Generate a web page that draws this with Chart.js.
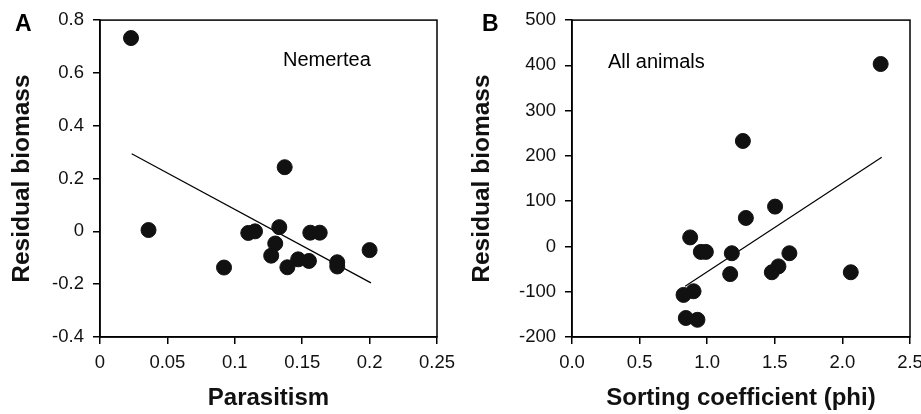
<!DOCTYPE html>
<html>
<head>
<meta charset="utf-8">
<script src="https://cdn.jsdelivr.net/npm/chart.js@4"></script>
<style>
  body { margin: 0; background: #fff; }
  .panel { position: absolute; top: 0; height: 414px; }
</style>
</head>
<body>
<div class="panel" style="left:0;width:460px"><canvas id="chartA"></canvas></div>
<div class="panel" style="left:460px;width:461px"><canvas id="chartB"></canvas></div>
<script>
// panel A - Nemertea
const parasitism = [0.023, 0.036, 0.092, 0.110, 0.115, 0.133, 0.130, 0.127, 0.137, 0.139, 0.147, 0.155, 0.156, 0.163, 0.176, 0.176, 0.200];
const residualA = [0.732, 0.005, -0.137, -0.006, 0.0, 0.016, -0.046, -0.092, 0.243, -0.136, -0.106, -0.112, -0.005, -0.005, -0.117, -0.133, -0.071];
const fitXA = [0.0235, 0.201];
const fitYA = [0.294, -0.195];
const xTicksA = ['0', '0.05', '0.1', '0.15', '0.2', '0.25'];
const yTicksA = ['-0.4', '-0.2', '0', '0.2', '0.4', '0.6', '0.8'];

// panel B - All animals
const sorting = [2.283, 1.264, 1.286, 1.502, 0.874, 0.953, 0.990, 1.182, 1.608, 1.170, 1.478, 1.527, 2.062, 0.899, 0.825, 0.842, 0.928];
const residualB = [403, 233, 63, 88, 20, -12, -12, -15, -15, -61, -57, -44, -57, -99, -107, -158, -162];
const fitXB = [0.837, 2.291];
const fitYB = [-88, 197];
const xTicksB = ['0.0', '0.5', '1.0', '1.5', '2.0', '2.5'];
const yTicksB = ['-200', '-100', '0', '100', '200', '300', '400', '500'];

const FONT = "'Liberation Sans', Arial, Helvetica, sans-serif";

function pts(xs, ys) {
  return xs.map((x, i) => ({ x: x, y: ys[i] }));
}

// frame round the plot area plus the panel letter and the note
function decor(letter, letterX, note, noteX, noteY) {
  return {
    id: 'decor',
    afterDraw(chart) {
      const { ctx, chartArea: a } = chart;
      ctx.save();
      ctx.strokeStyle = '#000';
      ctx.lineWidth = 1.5;
      ctx.strokeRect(a.left, a.top, a.right - a.left, a.bottom - a.top);
      ctx.fillStyle = '#000';
      ctx.textBaseline = 'alphabetic';
      ctx.font = 'bold 23px ' + FONT;
      ctx.fillText(letter, letterX, 31);
      ctx.font = '20px ' + FONT;
      ctx.fillText(note, noteX, noteY);
      ctx.restore();
    }
  };
}

function makeChart(id, xs, ys, fx, fy, xr, yr, xLabels, yLabels, xTitle, yWidth, yTitlePad, rightPad, plugin) {
  new Chart(document.getElementById(id), {
    type: 'scatter',
    data: {
      datasets: [
        {
          data: pts(xs, ys),
          backgroundColor: '#111',
          borderColor: '#111',
          pointRadius: 7.5,
          pointHoverRadius: 7.5
        },
        {
          type: 'line',
          data: pts(fx, fy),
          borderColor: '#000',
          borderWidth: 1.2,
          pointRadius: 0,
          fill: false
        }
      ]
    },
    options: {
      responsive: true,
      maintainAspectRatio: false,
      animation: false,
      events: [],
      layout: { padding: { left: 0, top: 15, right: rightPad, bottom: 0 } },
      plugins: { legend: { display: false }, tooltip: { enabled: false } },
      scales: {
        x: {
          type: 'linear',
          min: xr[0], max: xr[1],
          afterFit(s) { s.height = 77; s.paddingRight = 0; s.paddingLeft = 0; },
          border: { display: true, color: '#000', width: 1.5 },
          grid: { drawOnChartArea: false, drawTicks: true, tickLength: 7, color: '#000', lineWidth: 1.5 },
          ticks: {
            stepSize: xr[2],
            color: '#111',
            font: { family: FONT, size: 18.5 },
            padding: 8,
            maxRotation: 0,
            callback: (v, i) => xLabels[i]
          },
          title: {
            display: true,
            text: xTitle,
            color: '#111',
            font: { family: FONT, size: 24, weight: 'bold' },
            padding: { top: 0, bottom: 1 }
          }
        },
        y: {
          type: 'linear',
          min: yr[0], max: yr[1],
          afterFit(s) { s.width = yWidth; },
          border: { display: true, color: '#000', width: 1.5 },
          grid: { drawOnChartArea: false, drawTicks: true, tickLength: 7, color: '#000', lineWidth: 1.5 },
          ticks: {
            stepSize: yr[2],
            color: '#111',
            font: { family: FONT, size: 18.5 },
            padding: 9,
            callback: (v, i) => yLabels[i]
          },
          title: {
            display: true,
            text: 'Residual biomass',
            color: '#111',
            font: { family: FONT, size: 24.5, weight: 'bold' },
            padding: { top: 8, bottom: 0 }
          }
        }
      }
    },
    plugins: [plugin]
  });
}

makeChart('chartA', parasitism, residualA, fitXA, fitYA,
  [0, 0.25, 0.05], [-0.4, 0.8, 0.2], xTicksA, yTicksA,
  'Parasitism', 100, 8, 23, decor('A', 15, 'Nemertea', 283, 66));

makeChart('chartB', sorting, residualB, fitXB, fitYB,
  [0, 2.5, 0.5], [-200, 500, 100], xTicksB, yTicksB,
  'Sorting coefficient (phi)', 112, 11, 11, decor('B', 22, 'All animals', 148, 68));
</script>
</body>
</html>
